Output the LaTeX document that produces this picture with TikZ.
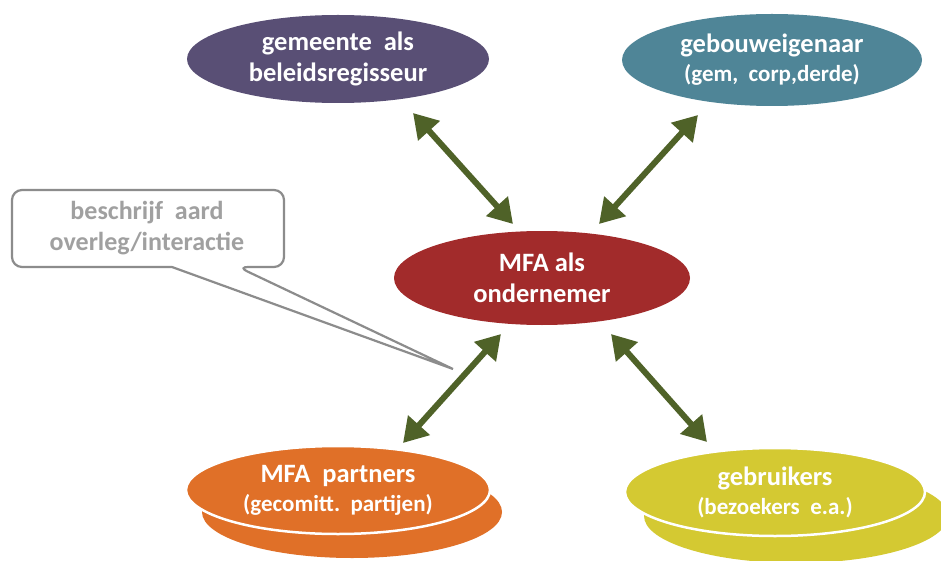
\documentclass[tikz,border=0pt]{standalone}
\usepackage{fontspec}
\setmainfont{Carlito}
\usetikzlibrary{arrows.meta,shapes.geometric}
\definecolor{cgem}{HTML}{594F75}
\definecolor{cgeb}{HTML}{4F8597}
\definecolor{cmfa}{HTML}{A22B2B}
\definecolor{corange}{HTML}{E07028}
\definecolor{cyel}{HTML}{D4C932}
\definecolor{carrow}{HTML}{4F6228}
\definecolor{cgray}{HTML}{8C8C8C}
\definecolor{cgraytext}{HTML}{A0A0A0}
\tikzset{
  blob/.style={ellipse, draw=none, minimum width=302pt, minimum height=90pt, inner sep=0pt,
    text=white, font=\bfseries\fontsize{26.5}{31}\selectfont, align=center},
  front/.style={blob, draw=white, line width=2.5pt},
  twoway/.style={carrow, line width=6pt, {Triangle[length=24pt,width=28pt]}-{Triangle[length=24pt,width=28pt]}},
}
\newcommand{\smallline}{\fontsize{23}{28}\selectfont}
\begin{document}
\begin{tikzpicture}[x=1pt,y=-1pt]
\useasboundingbox (0,0) rectangle (941,561);
\fill[white] (0,0) rectangle (941,561);

% top ellipses
\node[blob, fill=cgem, minimum width=302pt, minimum height=88pt] (gem) at (338,59)
  {gemeente\ \ als\\beleidsregisseur};
\node[blob, fill=cgeb, minimum width=300pt, minimum height=92pt] (geb) at (772,60)
  {gebouweigenaar\\[-2pt]{\smallline(gem,\ \ corp,derde)}};

% center
\node[blob, fill=cmfa, minimum width=296pt, minimum height=94pt] (mfa) at (542,278)
  {MFA als\\ondernemer};

% bottom stacked ellipses
\node[blob, fill=corange, minimum width=300pt, minimum height=92pt] (partback) at (352,512) {};
\node[front, fill=corange, minimum width=304pt, minimum height=88pt] (part) at (338,490)
  {MFA\ \ partners\\[-2pt]{\smallline(gecomitt.\ \ partijen)}};

\node[blob, fill=cyel, minimum width=304pt, minimum height=94pt] (gebrback) at (796,516) {};
\node[front, fill=cyel, minimum width=300pt, minimum height=88pt] (gebr) at (775,492)
  {gebruikers\\[-2pt]{\smallline(bezoekers\ \ e.a.)}};

% arrow end points
\coordinate (a1s) at (413,113);
\coordinate (a1e) at (513,224);
\coordinate (a2s) at (698,115);
\coordinate (a2e) at (599,224);
\coordinate (a3s) at (501,334);
\coordinate (a3e) at (403,443);
\coordinate (a4s) at (611,334);
\coordinate (a4e) at (707,442);

\draw[twoway] (a1s) -- (a1e);
\draw[twoway] (a2s) -- (a2e);
\draw[twoway] (a3s) -- (a3e);
\draw[twoway] (a4s) -- (a4e);

% callout
\coordinate (tip) at (453,369);
\draw[cgray, line width=2.2pt, fill=white, rounded corners=10pt]
  (172,267) -- (12,267) -- (12,190) -- (284,190) -- (284,267) -- (238,267)
  [sharp corners] -- (tip) -- cycle;
\node[text=cgraytext, font=\bfseries\fontsize{26}{31}\selectfont, align=center] (call) at (147,228)
  {beschrijf\ \ aard\\overleg/interactie};
\end{tikzpicture}
\end{document}
